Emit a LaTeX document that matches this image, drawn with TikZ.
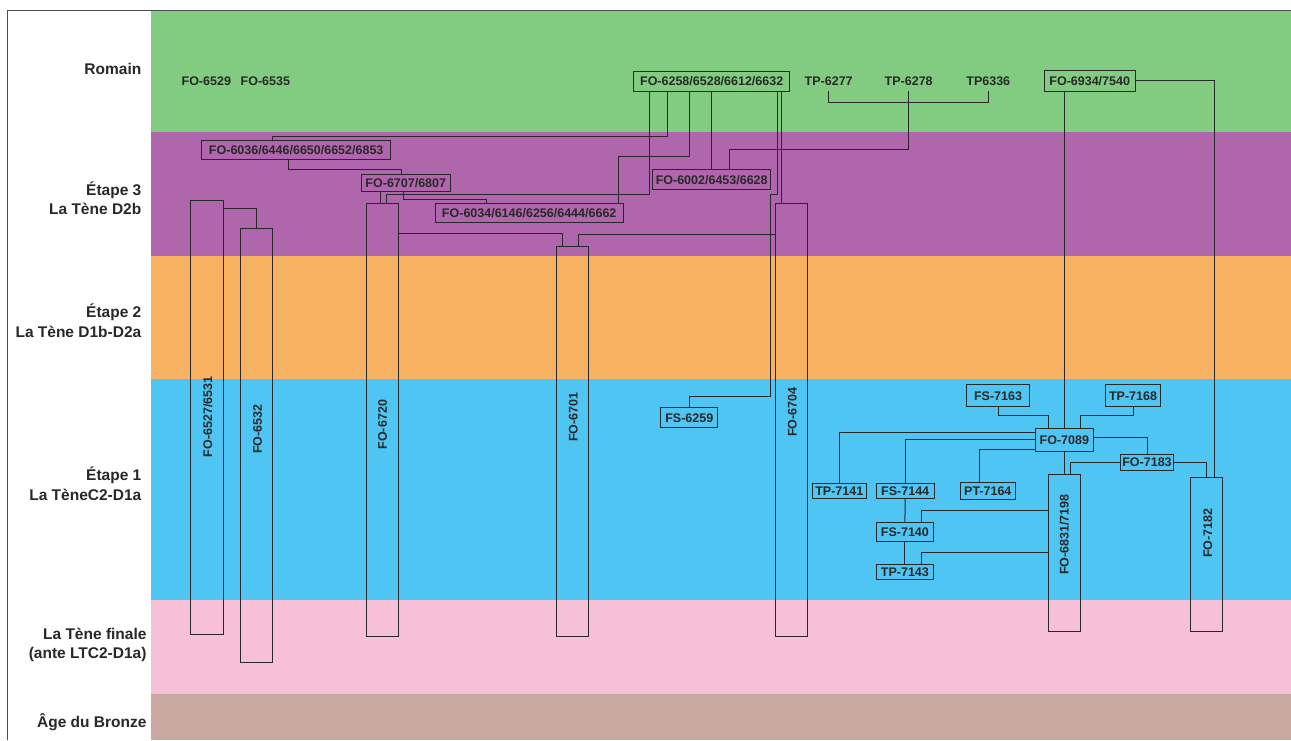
\documentclass[tikz,border=0pt]{standalone}
\usepackage{fontspec}
\setmainfont{Liberation Sans}

\definecolor{romain}{RGB}{130, 204, 130}
\definecolor{etapetrois}{RGB}{176, 102, 173}
\definecolor{etapedeux}{RGB}{248, 178, 97}
\definecolor{etapeun}{RGB}{78, 197, 242}
\definecolor{tenefinale}{RGB}{246, 193, 216}
\definecolor{bronze}{RGB}{202, 170, 160}
\definecolor{trait}{RGB}{40, 40, 40}

\begin{document}
\begin{tikzpicture}[x=1pt, y=-1pt, % 1 unité = 1 pixel de l'original, y vers le bas
		tag/.style={draw=trait, line width=1pt, inner sep=0pt, text=trait, text height=9pt, text depth=0pt, font=\bfseries\fontsize{12.5}{14}\selectfont},
		nom/.style={tag, draw=none, minimum height=20.3},
		vtag/.style={tag, draw=none, rotate=90},
		fosse/.style={draw=trait, line width=1pt, inner sep=0pt},
		periode/.style={text=trait, inner sep=0pt, align=right, anchor=east, font=\bfseries\fontsize{15.5}{19.5}\selectfont},
		link/.style={draw=trait, line width=1pt}]
		
		\useasboundingbox (0,0) rectangle (1291,740);
		
		% Bandes des périodes
		\foreach \haut/\bas/\couleur in {10/132.3/romain, 132.3/256/etapetrois, 256/379/etapedeux, 379/600/etapeun, 600/694/tenefinale, 694/740/bronze} {
			\fill[\couleur] (151,\haut) rectangle (1291,\bas);
		}
		
		% Cadre
		\draw[gray!60!black, line width=1pt] (7.3,740) -- (7.3,10) -- (1291,10);
		
		% Noms des périodes
		\node[periode] (romain) at (141.5,69.3) {Romain};
		\node[periode] (etape3) at (141.5,198) {Étape 3\\La Tène D2b};
		\node[periode] (etape2) at (141.5,320.5) {Étape 2\\La Tène D1b-D2a};
		\node[periode] (etape1) at (141.5,483.5) {Étape 1\\La TèneC2-D1a};
		\node[periode] (finale) at (146.7,645) {La Tène finale\\(ante LTC2-D1a)};
		\node[periode] (agebronze) at (146.7,721.7) {Âge du Bronze};
		
		% Structures sans cadre
		\node[nom] (n6529) at (206.3,80.7) {FO-6529};
		\node[nom] (n6535) at (265.3,80.7) {FO-6535};
		\node[nom] (t6277) at (828.7,80.7) {TP-6277};
		\node[nom] (t6278) at (908.7,80.7) {TP-6278};
		\node[nom] (t6336) at (988.3,80.7) {TP6336};
		
		% Structures encadrées
		\node[tag, minimum width=156, minimum height=20.3] (f6258) at (711.7,81.2) {FO-6258/6528/6612/6632};
		\node[tag, minimum width=90.7, minimum height=20.3] (f6934) at (1089.7,80.9) {FO-6934/7540};
		\node[tag, minimum width=189, minimum height=19] (f6036) at (296.2,149.8) {FO-6036/6446/6650/6652/6853};
		\node[tag, minimum width=89, minimum height=17] (f6707) at (405.8,182.8) {FO-6707/6807};
		\node[tag, minimum width=188.3, minimum height=19.4] (f6034) at (529.2,213) {FO-6034/6146/6256/6444/6662};
		\node[tag, minimum width=118, minimum height=19.6] (f6002) at (711.7,179.5) {FO-6002/6453/6628};
		\node[tag, minimum width=57.3, minimum height=20.4] (s6259) at (689.3,417.5) {FS-6259};
		\node[tag, minimum width=62.6, minimum height=21.7] (s7163) at (998,395.8) {FS-7163};
		\node[tag, minimum width=55.4, minimum height=21.7] (t7168) at (1133,395.8) {TP-7168};
		\node[tag, minimum width=58, minimum height=22.7] (f7089) at (1064.3,439.7) {FO-7089};
		\node[tag, minimum width=52.6, minimum height=16.3] (f7183) at (1147,462.2) {FO-7183};
		\node[tag, minimum width=54, minimum height=15] (t7141) at (839.3,490.8) {TP-7141};
		\node[tag, minimum width=57.7, minimum height=14.6] (s7144) at (905.2,491) {FS-7144};
		\node[tag, minimum width=55, minimum height=16.6] (p7164) at (987.8,491) {PT-7164};
		\node[tag, minimum width=57.7, minimum height=19.3] (s7140) at (904.9,531.7) {FS-7140};
		\node[tag, minimum width=57.7, minimum height=15.3] (t7143) at (904.9,571.7) {TP-7143};
		
		% Fosses longues (durée)
		\node[fosse, minimum width=32.3, minimum height=433.7] (f6527) at (206.85,417.2) {};
		\node[fosse, minimum width=32, minimum height=433.6] (f6532) at (256.7,445.5) {};
		\node[fosse, minimum width=32, minimum height=433.4] (f6720) at (382.7,420) {};
		\node[fosse, minimum width=32.3, minimum height=390.4] (f6701) at (572.2,441.5) {};
		\node[fosse, minimum width=32.3, minimum height=433.4] (f6704) at (791.8,420) {};
		\node[fosse, minimum width=32, minimum height=157.3] (f6831) at (1064.3,553.3) {};
		\node[fosse, minimum width=32, minimum height=154.3] (f7182) at (1206.3,554.8) {};
		
		% Noms des fosses (vertical)
		\node[vtag] (l6527) at (207.7,417) {FO-6527/6531};
		\node[vtag] (l6532) at (257.3,429) {FO-6532};
		\node[vtag] (l6720) at (382.3,424.7) {FO-6720};
		\node[vtag] (l6701) at (573,417) {FO-6701};
		\node[vtag] (l6704) at (792,412) {FO-6704};
		\node[vtag] (l6831) at (1064,534.5) {FO-6831/7198};
		\node[vtag] (l7182) at (1207.7,533.3) {FO-7182};
		
		% Relations stratigraphiques, partie haute
		\draw[link] (f6258.south -| 667.7,0) -- (667.7,136) -| (f6036.north -| 272.3,0);
		\draw[link] (f6036.south -| 288.3,0) -- (288.3,169.7) -| (f6707.north -| 401.3,0);
		\draw[link] (f6707.south -| 380.3,0) -- (f6720.north -| 380.3,0);
		\draw[link] (f6258.south -| 649,0) -- (649,194.3) -| (f6720.north -| 386.5,0);
		\draw[link] (f6707.south -| 403.3,0) -- (403.3,199) -| (f6034.north -| 486.7,0);
		\draw[link] (f6258.south -| 689.3,0) -- (689.3,156.7) -| (f6034.north -| 618.3,0);
		\draw[link] (f6258.south) -- (f6002.north);
		\draw[link] (t6278.south) -- (908.7,149.3) -| (f6002.north -| 729,0);
		\draw[link] (t6277.south) -- (828.7,102.7) -| (t6336.south);
		\draw[link] (f6258.south -| 777.7,0) -- (777.7,194.3) -- (770.7,194.3) -- (770.7,396) -| (s6259.north);
		\draw[link] (f6258.south -| 781.7,0) -- (f6704.north -| 781.7,0);
		\draw[link] (f6720.east |- 0,233) -| (f6701.north -| 562.7,0);
		\draw[link] (f6704.west |- 0,234) -| (f6701.north -| 578.3,0);
		\draw[link] (f6527.east |- 0,208.3) -| (f6532.north);
		\draw[link] (f6934.east) -| (f7182.north -| 1214.7,0);
		\draw[link] (f6934.south -| 1064.3,0) -- (f7089.north);
		
		% Relations stratigraphiques, étape 1
		\draw[link] (s7163.south) -- (998,415.3) -| (f7089.north -| 1048.3,0);
		\draw[link] (t7168.south) -- (1133,415.3) -| (f7089.north -| 1080,0);
		\draw[link] (f7089.west |- 0,432.3) -| (t7141.north);
		\draw[link] (f7089.west |- 0,439.7) -| (s7144.north);
		\draw[link] (f7089.west |- 0,449.3) -| (p7164.north -| 979.7,0);
		\draw[link] (f7089.east |- 0,437.7) -| (f7183.north);
		\draw[link] (f7089.south) -- (f6831.north);
		\draw[link] (f7183.west) -| (f6831.north -| 1070.7,0);
		\draw[link] (f7183.east) -| (f7182.north -| 1206.3,0);
		\draw[link] (s7144.south) -- (s7140.north);
		\draw[link] (s7140.south) -- (t7143.north);
		\draw[link] (f6831.west |- 0,510.3) -| (s7140.north -| 921,0);
		\draw[link] (f6831.west |- 0,552.7) -| (t7143.north -| 921,0);
		
	\end{tikzpicture}
\end{document}
